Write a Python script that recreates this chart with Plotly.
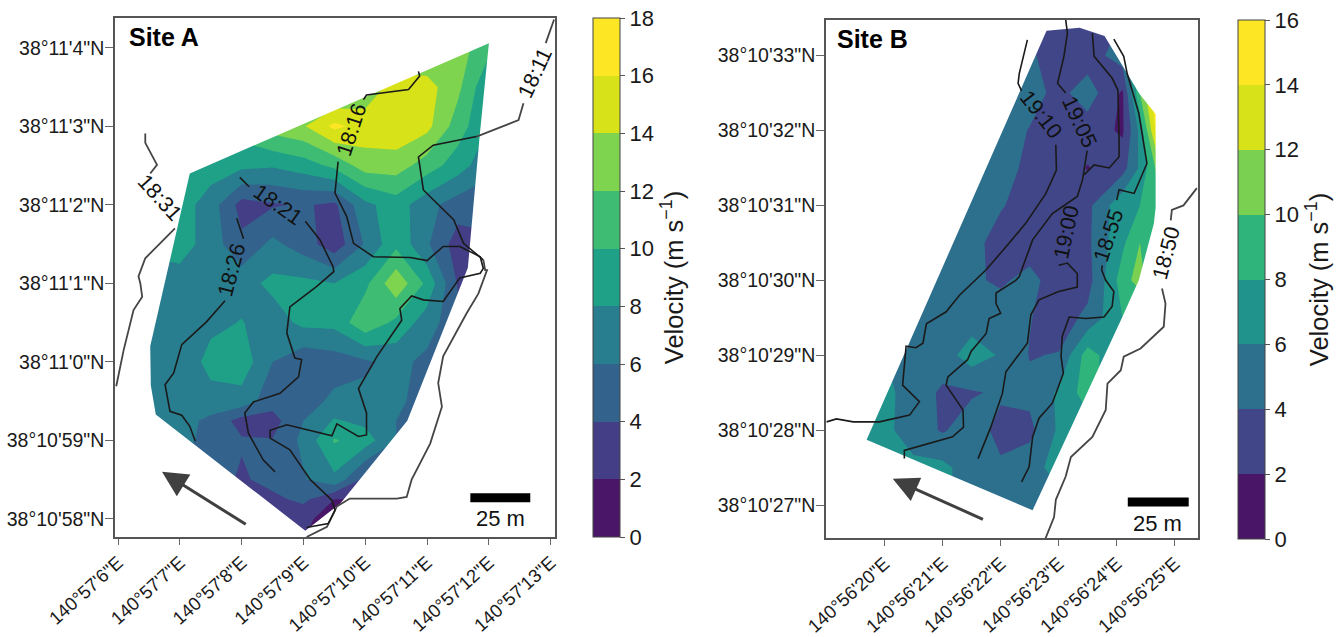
import plotly.graph_objects as go

W, H = 1343, 637
GAP = None
FONT = "Liberation Sans"

# ---------- Site A (seconds past 140°57' E and 38°10' N) ----------
a_lon = [6.5, 7, 7.5, 8, 8.5, 9, 9.5, 10, 10.5, 11, 11.5, 12]
a_lat = [57.5, 58, 58.25, 58.5, 59, 59.25, 59.5, 60, 60.5, 61, 61.5, 62, 62.5, 63, 63.5, 64, 64.5]
a_vel = [
    [2, 2, 2, 2, 2, 1.5, 1, 2, 2, 2, 2, 2],
    [3, 3, 3, 2.8, 2.5, 2.5, 1, 1.5, 2.5, 3, 3, 3],
    [3, 3, 3, 3, 3.5, 4.5, 2.0, 2, 2, 2, 2, 2],
    [5, 5, 5, 3.7, 4.7, 5.8, 7.5, 3.2, 3, 3, 3, 3],
    [6.5, 6.5, 5.5, 4.2, 4.1, 6.5, 10.2, 9, 6, 5, 5, 5],
    [6.5, 6.8, 5.5, 3.2, 3.2, 6, 8.2, 7.5, 6, 5, 5, 5],
    [6.5, 7, 7.2, 7.2, 4.8, 5, 6.5, 6.5, 6.5, 5, 5, 5],
    [6.5, 6.5, 8.7, 9.2, 6, 4.5, 5, 5.7, 6.6, 5.5, 4.5, 4],
    [6.5, 6.7, 7.5, 8.1, 7, 8.5, 8.6, 11.5, 9.5, 7, 4.5, 4],
    [7, 7, 7, 7.2, 8.5, 8.5, 8, 9.5, 13.5, 9.5, 3.8, 4],
    [8.5, 9, 7, 4.5, 6.5, 5, 2.8, 6.2, 9.5, 6.3, 3, 3.5],
    [9, 9, 7, 3.2, 3.8, 4.2, 3.6, 7.5, 9, 6.7, 5, 5],
    [9, 9, 9, 8.5, 8.2, 9, 10.5, 13, 13, 11, 9, 6.5],
    [9.5, 9.5, 10, 11, 13, 13.8, 16.5, 15.2, 15.5, 14.6, 11, 8],
    [10, 10, 10, 10, 10, 10, 11, 12.5, 15, 14.8, 12.5, 8.2],
    [10, 10, 10, 10, 10, 10, 10, 12, 12, 12, 13, 10.5],
    [11, 11, 11, 11, 11, 11, 11, 11, 11, 11, 11, 11],
]
a_hull_lon = [12.0, 11.85, 11.66, 10.68, 9.6, 9.03, 6.61, 6.53, 6.52, 7.16, 12.0]
a_hull_lat = [64.06, 62.87, 61.2, 59.25, 58.2, 57.85, 59.33, 59.7, 60.2, 62.4, 64.06]

a_t11_lon = [13.055, 12.98, 12.92, GAP, 12.56, 12.48, 11.80, GAP, 11.91, 11.94, 11.97, 11.83, 11.64, 11.26, 11.18, 11.24, 11.05, 10.75, 10.67, 10.51, 9.75, 9.54, 9.38, 9.05]
a_t11_lat = [64.36, 64.2, 64.06, GAP, 63.295, 63.08, 62.87, GAP, 61.30, 61.17, 61.17, 60.87, 60.62, 60.07, 59.73, 59.43, 58.96, 58.50, 58.28, 58.26, 58.26, 58.16, 57.9, 57.77]
a_t11b_lon = [11.80, 11.10, 10.86, 10.94, 11.43, 11.59, 11.91]
a_t11b_lat = [62.87, 62.76, 62.61, 62.19, 61.81, 61.51, 61.30]
a_t16_lon = [10.86, 10.88, 10.70, 10.02, 9.97, GAP, 9.56, 9.51, 9.70, 9.81, 10.13, 10.73, 11.0, 11.26, 11.53, 11.86, 11.91, 11.86, 11.53, 11.26, 10.94, 10.75, 10.56, 10.59, 10.19, 9.89, 10.02, 10.02, 9.89, 9.54, 9.46, 8.73, 8.46, 8.46, 8.78, 9.11, 9.46, 9.51, 9.40, 9.05]
a_t16_lat = [63.70, 63.64, 63.47, 63.40, 63.34, GAP, 62.55, 62.15, 61.85, 61.51, 61.34, 61.33, 61.29, 61.47, 61.47, 61.34, 61.19, 61.13, 61.07, 60.77, 60.79, 60.84, 60.68, 60.53, 60.07, 59.66, 59.35, 59.07, 59.05, 59.21, 59.06, 59.20, 59.13, 59.03, 58.88, 58.5, 58.24, 58.11, 57.94, 57.89]
a_t21_lon = [7.97, 8.12, GAP, 9.03, 9.27, 9.48, 9.49, 9.21, 8.78, 8.73, 8.86, 8.97, 8.92, 8.62, 8.19, 8.05, 8.11, 8.35, 8.54]
a_t21_lat = [62.35, 62.23, GAP, 61.79, 61.55, 61.21, 61.15, 60.96, 60.70, 60.37, 60.05, 60.03, 59.81, 59.60, 59.49, 59.35, 59.09, 58.75, 58.60]
a_t26_lon = [7.92, 8.03, GAP, 7.73, 7.43, 7.03, 6.90, 6.76, 6.84, 7.03, 7.16, 7.25]
a_t26_lat = [61.83, 61.57, GAP, 60.78, 60.51, 60.22, 59.86, 59.71, 59.37, 59.32, 59.18, 58.99]
a_t31_lon = [6.44, 6.44, 6.63, 6.52, GAP, 6.92, 6.44, 6.33, 6.36, 6.39, 6.25, 6.09, 5.97]
a_t31_lat = [62.91, 62.79, 62.51, 62.40, GAP, 61.70, 61.32, 61.09, 61.0, 60.83, 60.66, 60.15, 59.69]
a_labels = ["18:11", "18:16", "18:21", "18:26", "18:31"]
a_label_lon = [12.75, 9.79, 8.59, 7.84, 6.68]
a_label_lat = [63.68, 62.96, 62.0, 61.17, 62.09]
a_label_angle = [-65, -72, 35, -75, 48]
a_lon_ticks = [6, 7, 8, 9, 10, 11, 12, 13]
a_lat_ticks = [58, 59, 60, 61, 62, 63, 64]
a_lon_text = ["140°57'%d\"E" % s for s in a_lon_ticks]
a_lat_text = ["38°10'58\"N", "38°10'59\"N", "38°11'0\"N", "38°11'1\"N", "38°11'2\"N", "38°11'3\"N", "38°11'4\"N"]
a_colors = ["#4a1668", "#433e85", "#33638d", "#287d8e", "#1fa188", "#3fbc73", "#7ed34f", "#d7e219", "#fde725"]

# ---------- Site B (seconds past 140°56' E and 38°10' N) ----------
b_lon = [19.5, 20, 20.5, 21, 21.5, 22, 22.5, 23, 23.5, 24.1, 24.4, 24.7, 25]
b_lat = [26.5, 27, 27.5, 28, 28.5, 29, 29.5, 30, 30.5, 31, 31.5, 32, 32.5, 33, 33.5]
b_vel = [
    [7.3, 7.3, 7.3, 6.5, 5, 5, 5, 5, 5, 5, 5, 5, 5],
    [7.3, 7.3, 7, 6.5, 5, 5, 5, 5, 5, 5, 5, 5, 5],
    [8, 7, 6.5, 6.5, 5, 4.3, 5, 7, 7, 7, 7, 7, 7],
    [7, 6.5, 5, 3.8, 5, 3.4, 3.5, 6.3, 7, 7, 7, 7, 7],
    [7, 6.6, 5, 3.7, 3.8, 4.3, 4.5, 6.3, 9, 6, 6, 6, 6],
    [6, 6, 5.5, 5, 7, 5.8, 3.9, 4.1, 9, 6, 6, 6, 6],
    [5, 5, 5, 4.8, 5, 5, 4.1, 3, 4.5, 8, 7, 7, 7],
    [5, 5, 5, 4.7, 4.3, 3.7, 4.6, 3, 3.2, 9, 11, 7, 7],
    [5, 5, 5, 5, 4.8, 3, 3, 3, 3.6, 7.6, 10, 9, 9],
    [5, 5, 5, 5, 5, 4.2, 3, 3, 3.5, 7.5, 8, 9.5, 10],
    [5, 5, 5, 5, 5, 5, 3.4, 3, 1.9, 3.2, 6.3, 10.5, 13],
    [5, 5, 5, 5, 5, 5, 3.9, 3, 3, 1.7, 6.5, 15, 20],
    [4.5, 4.5, 4.5, 4.5, 4.5, 4.5, 4.8, 3.4, 5, 1.7, 10, 16, 16],
    [4.5, 4.5, 4.5, 4.5, 4.5, 4.5, 4.3, 3, 3, 5, 7, 9, 9],
    [4.5, 4.5, 4.5, 4.5, 4.5, 4.5, 3.5, 3, 3, 4, 5, 6, 6],
]
b_hull_lon = [22.79, 23.36, 23.79, 24.39, 24.67, 24.67, 24.64, 24.38, 24.09, 22.55, 19.69, 22.79]
b_hull_lat = [33.33, 33.37, 33.26, 32.49, 32.22, 30.97, 30.76, 30.0, 29.5, 26.93, 27.87, 33.33]

b_t50_lon = [25.38, 25.15, 24.95, 24.93, GAP, 24.78, 24.84, 24.81, 24.55, 24.41, 24.12, 24.07, 23.84, 23.81, 23.58, 23.21, 23.12, 22.95, 22.92, 22.77]
b_t50_lat = [31.23, 31.0, 30.94, 30.8, GAP, 29.89, 29.69, 29.38, 29.20, 29.09, 28.98, 28.80, 28.62, 28.27, 27.91, 27.64, 27.38, 27.07, 26.84, 26.55]
b_t55_lon = [23.95, 24.12, 24.18, 24.38, 24.52, 24.30, 24.04, 24.0, GAP, 23.75, 23.74, 23.81, 23.95, 23.92, 23.78, 23.47, 23.18, 23.06, 23.04, 23.08, 22.89, 22.66, 22.55, 22.49, 22.36]
b_t55_lat = [33.22, 32.99, 32.76, 32.23, 31.56, 31.16, 31.21, 31.07, GAP, 30.2, 30.14, 30.0, 29.85, 29.65, 29.51, 29.49, 29.51, 29.25, 28.98, 28.76, 28.36, 28.16, 27.91, 27.51, 27.31]
b_t00_lon = [23.58, 23.61, 23.92, 24.02, 24.04, 24.04, 23.87, 23.61, 23.44, GAP, 23.0, 23.15, 23.32, 23.32, 23.0, 22.66, 22.52, 22.46, 22.09, 22.03, 21.83, 21.61]
b_t00_lat = [33.3, 32.99, 32.7, 32.54, 31.87, 31.65, 31.5, 31.54, 31.41, GAP, 30.2, 30.23, 30.09, 29.91, 29.85, 29.74, 29.54, 29.16, 28.78, 28.49, 28.04, 27.62]
b_t05_lon = [23.12, 23.15, 23.09, 22.98, 23.12, GAP, 23.49, 23.41, 23.32, 22.89, 22.55, 22.32, 22.26, 21.92, 21.92, 22.0, 21.8, 21.75, 21.49, 21.43, 21.09, 21.06, 21.35, 21.36, 21.17, 20.83, 20.34, 20.34]
b_t05_lat = [33.48, 33.3, 32.99, 32.63, 32.5, GAP, 31.73, 31.34, 31.12, 30.89, 30.54, 30.05, 30.0, 29.83, 29.69, 29.56, 29.49, 29.29, 29.05, 28.94, 28.71, 28.6, 28.27, 28.04, 27.91, 27.84, 27.73, 27.62]
b_t10_lon = [22.46, 22.32, 22.30, 22.36, GAP, 22.95, 22.96, 22.78, 22.43, 22.15, 21.75, 21.29, 21.06, 20.72, 20.66, 20.54, 20.37, 20.31, 20.6, 20.43, 19.91, 19.46, 19.17, 19.0]
b_t10_lat = [33.21, 32.76, 32.63, 32.53, GAP, 31.81, 31.47, 31.16, 30.76, 30.5, 30.14, 29.8, 29.58, 29.42, 29.16, 29.1, 29.12, 28.6, 28.38, 28.2, 28.11, 28.11, 28.15, 28.11]
b_labels = ["18:50", "18:55", "19:00", "19:05", "19:10"]
b_label_lon = [24.86, 23.87, 23.14, 23.35, 22.70]
b_label_lat = [30.36, 30.6, 30.64, 32.11, 32.21]
b_label_angle = [-75, -72, -78, 65, 52]
b_lon_ticks = [20, 21, 22, 23, 24, 25]
b_lat_ticks = [27, 28, 29, 30, 31, 32, 33]
b_lon_text = ["140°56'%d\"E" % s for s in b_lon_ticks]
b_lat_text = ["38°10'%d\"N" % s for s in b_lat_ticks]
b_colors = ["#481567", "#404688", "#2d708e", "#20938c", "#2fb47c", "#7ad151", "#d7e219", "#fde725"]

TRACK = "#1a1a1a"
GREY = "#454545"


def step_scale(colors):
    n = len(colors)
    out = []
    for i, c in enumerate(colors):
        out += [[i / n, c], [(i + 1) / n, c]]
    return out


def dx(px0, px1):
    return [px0 / W, px1 / W]


def dy(py0, py1):
    return [1 - py1 / H, 1 - py0 / H]


fig = go.Figure()


def add_site(lon, lat, vel, hull_lon, hull_lat, colors, vmax, ticks, xa, ya, xr, yr, cb_px, cb_py):
    fig.add_trace(go.Contour(
        x=lon, y=lat, z=vel, xaxis=xa, yaxis=ya, zmin=0, zmax=vmax,
        autocontour=False,
        contours=dict(start=0, end=vmax, size=2, coloring="fill", showlines=False),
        line=dict(width=0, smoothing=0), colorscale=step_scale(colors), hoverinfo="skip",
        colorbar=dict(
            x=cb_px / W, xanchor="left", xref="paper", xpad=0, ypad=0,
            y=1 - cb_py[0] / H, yanchor="top", yref="paper",
            len=(cb_py[1] - cb_py[0]) / H, lenmode="fraction",
            thickness=27, thicknessmode="pixels",
            outlinecolor="#444444", outlinewidth=1,
            tickmode="array", tickvals=ticks, ticks="outside", ticklen=5,
            tickcolor="#555555", tickfont=dict(size=22, family=FONT, color="#1a1a1a"),
            title=dict(text="Velocity (m s<sup>−1</sup>)", side="right",
                       font=dict(size=25.5, family=FONT, color="#1a1a1a")),
        ),
    ))
    # white surround: plot rectangle joined to the reversed hull
    mask_x = [xr[0], xr[1], xr[1], xr[0], xr[0]] + hull_lon + [xr[0]]
    mask_y = [yr[0], yr[0], yr[1], yr[1], yr[0]] + hull_lat + [yr[0]]
    fig.add_trace(go.Scatter(x=mask_x, y=mask_y, xaxis=xa, yaxis=ya, mode="lines",
                             fill="toself", fillcolor="white", line=dict(width=0),
                             hoverinfo="skip", showlegend=False))


def add_line(x, y, xa, ya, color=TRACK, width=1.6):
    fig.add_trace(go.Scatter(x=x, y=y, xaxis=xa, yaxis=ya, mode="lines",
                             line=dict(color=color, width=width),
                             hoverinfo="skip", showlegend=False))


a_xr, a_yr = [5.95, 13.07], [57.77, 64.38]
b_xr, b_yr = [18.99, 25.40], [26.56, 33.475]
add_site(a_lon, a_lat, a_vel, a_hull_lon, a_hull_lat, a_colors, 18, list(range(0, 19, 2)),
         "x", "y", a_xr, a_yr, 593, (18, 537))
add_site(b_lon, b_lat, b_vel, b_hull_lon, b_hull_lat, b_colors, 16, list(range(0, 17, 2)),
         "x2", "y2", b_xr, b_yr, 1238, (20, 539))

add_line(a_t11_lon, a_t11_lat, "x", "y", GREY, 1.8)
add_line(a_t11b_lon, a_t11b_lat, "x", "y")
add_line(a_t16_lon, a_t16_lat, "x", "y")
add_line(a_t21_lon, a_t21_lat, "x", "y")
add_line(a_t26_lon, a_t26_lat, "x", "y")
add_line(a_t31_lon, a_t31_lat, "x", "y", GREY, 1.8)
add_line(b_t50_lon, b_t50_lat, "x2", "y2", GREY, 1.8)
add_line(b_t55_lon, b_t55_lat, "x2", "y2")
add_line(b_t00_lon, b_t00_lat, "x2", "y2")
add_line(b_t05_lon, b_t05_lat, "x2", "y2")
add_line(b_t10_lon, b_t10_lat, "x2", "y2")

# scale bars
add_line([11.70, 12.67], [58.27, 58.27], "x", "y", "#000000", 9)
add_line([24.19, 25.24], [27.04, 27.04], "x2", "y2", "#000000", 9)

ann = []
for t, x, y, ang in zip(a_labels, a_label_lon, a_label_lat, a_label_angle):
    ann.append(dict(x=x, y=y, xref="x", yref="y", text=t, textangle=ang, showarrow=False,
                    font=dict(size=21.5, family=FONT, color="#111111")))
for t, x, y, ang in zip(b_labels, b_label_lon, b_label_lat, b_label_angle):
    ann.append(dict(x=x, y=y, xref="x2", yref="y2", text=t, textangle=ang, showarrow=False,
                    font=dict(size=21.5, family=FONT, color="#111111")))
ann.append(dict(x=12.18, y=58.0, xref="x", yref="y", text="25 m", showarrow=False,
                font=dict(size=22, family=FONT, color="#111111")))
ann.append(dict(x=24.71, y=26.76, xref="x2", yref="y2", text="25 m", showarrow=False,
                font=dict(size=22, family=FONT, color="#111111")))
ann.append(dict(x=0.027, y=0.963, xref="x domain", yref="y domain", text="<b>Site A</b>", showarrow=False,
                xanchor="left", yanchor="middle", font=dict(size=25, family=FONT, color="#000000")))
ann.append(dict(x=0.024, y=0.963, xref="x2 domain", yref="y2 domain", text="<b>Site B</b>", showarrow=False,
                xanchor="left", yanchor="middle", font=dict(size=25, family=FONT, color="#000000")))
ann.append(dict(x=6.71, y=58.60, ax=8.09, ay=57.92, xref="x", yref="y", axref="x", ayref="y", text="",
                showarrow=True, arrowhead=2, arrowsize=1.7, arrowwidth=3, arrowcolor="#404040"))
ann.append(dict(x=20.14, y=27.35, ax=21.72, ay=26.8, xref="x2", yref="y2", axref="x2", ayref="y2", text="",
                showarrow=True, arrowhead=2, arrowsize=1.7, arrowwidth=3, arrowcolor="#404040"))


def axis(domain, rng, vals, text, angle, anchor, ticklen, size, standoff=0):
    return dict(domain=domain, range=rng, tickmode="array", tickvals=vals, ticktext=text,
                tickangle=angle, ticks="outside", ticklen=ticklen, tickcolor="#666666", tickwidth=1,
                ticklabelstandoff=standoff,
                showgrid=False, zeroline=False, showline=True, linecolor="#555555", linewidth=1.5,
                mirror=True, anchor=anchor, tickfont=dict(size=size, family=FONT, color="#1a1a1a"))


fig.update_layout(
    width=W, height=H, margin=dict(l=0, r=0, t=0, b=0, autoexpand=False), paper_bgcolor="white", plot_bgcolor="white",
    showlegend=False, annotations=ann,
    xaxis=axis(dx(115, 555), a_xr, a_lon_ticks, a_lon_text, -42, "y", 6, 18.5),
    yaxis=axis(dy(18, 537), a_yr, a_lat_ticks, a_lat_text, 0, "x", 8, 19.5, -3),
    xaxis2=axis(dx(826, 1198), b_xr, b_lon_ticks, b_lon_text, -42, "y2", 6, 18.5),
    yaxis2=axis(dy(20, 538), b_yr, b_lat_ticks, b_lat_text, 0, "x2", 8, 19.5, -3),
)
fig.write_html("out.html", config={"displayModeBar": False},
               post_script="document.body.style.margin='0';")
